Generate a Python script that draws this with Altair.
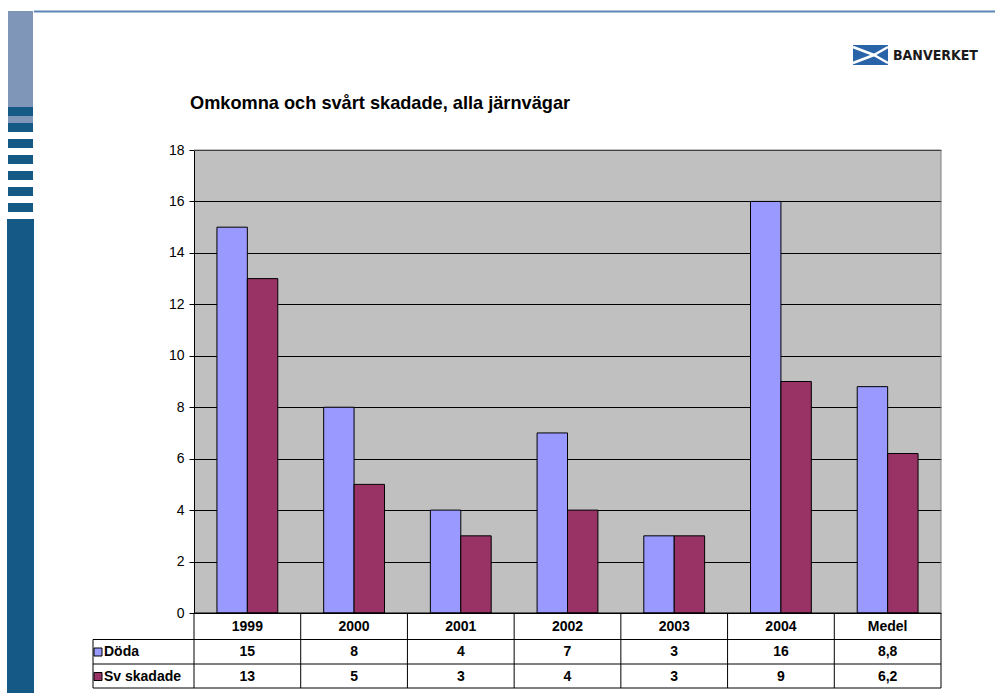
import altair as alt
import pandas as pd

categories = ["1999", "2000", "2001", "2002", "2003", "2004", "Medel"]
series = ["Döda", "Sv skadade"]
doda = [15, 8, 4, 7, 3, 16, 8.8]
sv_skadade = [13, 5, 3, 4, 3, 9, 6.2]
colors = ["#9999FF", "#993366"]
y_ticks = [0, 2, 4, 6, 8, 10, 12, 14, 16, 18]
title_text = "Omkomna och svårt skadade, alla järnvägar"

W, H = 747, 463
OX, OY = 194, 150  # plot origin on the page
FONT = "Liberation Sans"


def fmt(v):
    return (str(int(v)) if float(v).is_integer() else str(v)).replace(".", ",")


bars_df = pd.DataFrame(
    [{"category": c, "series": series[0], "value": v} for c, v in zip(categories, doda)]
    + [{"category": c, "series": series[1], "value": v} for c, v in zip(categories, sv_skadade)]
)
table_df = pd.DataFrame({
    "category": categories,
    "doda_lbl": [fmt(v) for v in doda],
    "sv_lbl": [fmt(v) for v in sv_skadade],
})

xscale = alt.Scale(domain=categories, paddingInner=0.43, paddingOuter=0.215)
X = alt.X("category:N", scale=xscale, axis=None, sort=categories)

bars = alt.Chart(bars_df).mark_bar(stroke="black", strokeWidth=1).encode(
    x=X,
    xOffset=alt.XOffset("series:N", scale=alt.Scale(domain=series, paddingInner=0, paddingOuter=0), sort=series),
    y=alt.Y("value:Q", scale=alt.Scale(domain=[0, 18], nice=False),
            axis=alt.Axis(values=y_ticks, grid=True, gridColor="black", gridWidth=1,
                          domainColor="black", tickColor="black", tickSize=5,
                          labelFont=FONT, labelFontSize=14, labelColor="black",
                          labelPadding=5, title=None)),
    color=alt.Color("series:N", scale=alt.Scale(domain=series, range=colors), legend=None),
)

text_base = dict(font=FONT, fontSize=14, fontWeight="bold", color="black", align="center", baseline="middle")
hdr = alt.Chart(table_df).mark_text(**text_base).encode(x=X, y=alt.value(627 - OY), text="category:N")
row1 = alt.Chart(table_df).mark_text(**text_base).encode(x=X, y=alt.value(652 - OY), text="doda_lbl:N")
row2 = alt.Chart(table_df).mark_text(**text_base).encode(x=X, y=alt.value(676.5 - OY), text="sv_lbl:N")

# table vertical lines at step boundaries (0..n)
vl_df = pd.DataFrame({"i": list(range(len(categories) + 1))})
vlines = alt.Chart(vl_df).mark_rule(color="black", strokeWidth=1).encode(
    x=alt.X("i:Q", scale=alt.Scale(domain=[0, len(categories)], nice=False, zero=False), axis=None),
    y=alt.value(613 - OY), y2=alt.value(688 - OY),
)

# decoration (page pixel coordinates)
rects = [
    # x, x2, y, y2, color
    (8, 33, 11, 107, "#7F96B8"),
    (8, 33, 107, 116, "#155A87"),
    (8, 33, 116, 123, "#7F96B8"),
    (8, 33, 123, 132, "#155A87"),
    (8, 33, 139, 148, "#155A87"),
    (8, 33, 155, 164, "#155A87"),
    (8, 33, 171, 180, "#155A87"),
    (8, 33, 187, 196, "#155A87"),
    (8, 33, 203, 212, "#155A87"),
    (7, 34, 219, 693, "#155A87"),
    (34, 995, 10.5, 12.5, "#5B87B8"),
    (853, 888, 45, 65, "#2A64A8"),
]
rect_df = pd.DataFrame(
    [{"x": a - OX, "x2": b - OX, "y": c - OY, "y2": d - OY, "c": e} for a, b, c, d, e in rects]
)
deco_rects = alt.Chart(rect_df).mark_rect().encode(
    x=alt.X("x:Q", scale=None), x2="x2:Q",
    y=alt.Y("y:Q", scale=None), y2="y2:Q",
    color=alt.Color("c:N", scale=None),
)

lines = [
    # x, y, x2, y2, color, width
    (OX, 613, 941, 613, "black", 1),
    (93, 639.5, 941, 639.5, "black", 1),
    (93, 664, 941, 664, "black", 1),
    (93, 688, 941, 688, "black", 1),
    (93, 639.5, 93, 688, "black", 1),
    (OX, 150, 941, 150, "#808080", 1),
    (941, 150, 941, 613, "#808080", 1),
    (853, 47, 874, 55, "white", 2.5),
    (853, 63, 874, 55, "white", 2.5),
    (874, 55, 888, 47, "white", 2.5),
    (874, 55, 888, 63, "white", 2.5),
]
line_df = pd.DataFrame(
    [{"x": a - OX, "y": b - OY, "x2": c - OX, "y2": d - OY, "c": e, "w": f} for a, b, c, d, e, f in lines]
)
deco_lines = alt.Chart(line_df).mark_rule().encode(
    x=alt.X("x:Q", scale=None), x2="x2:Q",
    y=alt.Y("y:Q", scale=None), y2="y2:Q",
    color=alt.Color("c:N", scale=None),
    strokeWidth=alt.StrokeWidth("w:Q", scale=None),
)

# legend swatches in the table
sw_df = pd.DataFrame({"series": series, "x": [98 - OX] * 2, "y": [652 - OY, 676.5 - OY],
                      "lx": [104 - OX] * 2, "c": colors})
swatches = alt.Chart(sw_df).mark_square(size=64, filled=True, stroke="black", strokeWidth=1, opacity=1).encode(
    x=alt.X("x:Q", scale=None), y=alt.Y("y:Q", scale=None), fill=alt.Fill("c:N", scale=None),
)
sw_labels = alt.Chart(sw_df).mark_text(font=FONT, fontSize=14, fontWeight="bold", color="black",
                                       align="left", baseline="middle").encode(
    x=alt.X("lx:Q", scale=None), y=alt.Y("y:Q", scale=None), text="series:N",
)

title_df = pd.DataFrame({"t": [title_text], "x": [190 - OX], "y": [109 - OY]})
title = alt.Chart(title_df).mark_text(font=FONT, fontSize=18.2, fontWeight="bold", color="black",
                                      align="left", baseline="alphabetic").encode(
    x=alt.X("x:Q", scale=None), y=alt.Y("y:Q", scale=None), text="t:N",
)

logo_df = pd.DataFrame({"t": ["BANVERKET"], "x": [893 - OX], "y": [55.5 - OY]})
logo = alt.Chart(logo_df).mark_text(font="DejaVu Sans Condensed, DejaVu Sans", fontSize=14, fontWeight="bold",
                                    color="#1a1a1a", align="left", baseline="middle").encode(
    x=alt.X("x:Q", scale=None), y=alt.Y("y:Q", scale=None), text="t:N",
)

chart = alt.layer(
    bars, vlines, hdr, row1, row2, deco_rects, deco_lines, swatches, sw_labels, title, logo
).resolve_scale(x="independent").properties(
    width=W, height=H,
    autosize=alt.AutoSizeParams(type="none"),
    padding={"left": OX, "top": OY, "right": 995 - OX - W, "bottom": 693 - OY - H},
    background="white",
).configure_view(fill="#C0C0C0", stroke=None)

chart.save("out.html", embed_options={"renderer": "svg", "actions": False})
